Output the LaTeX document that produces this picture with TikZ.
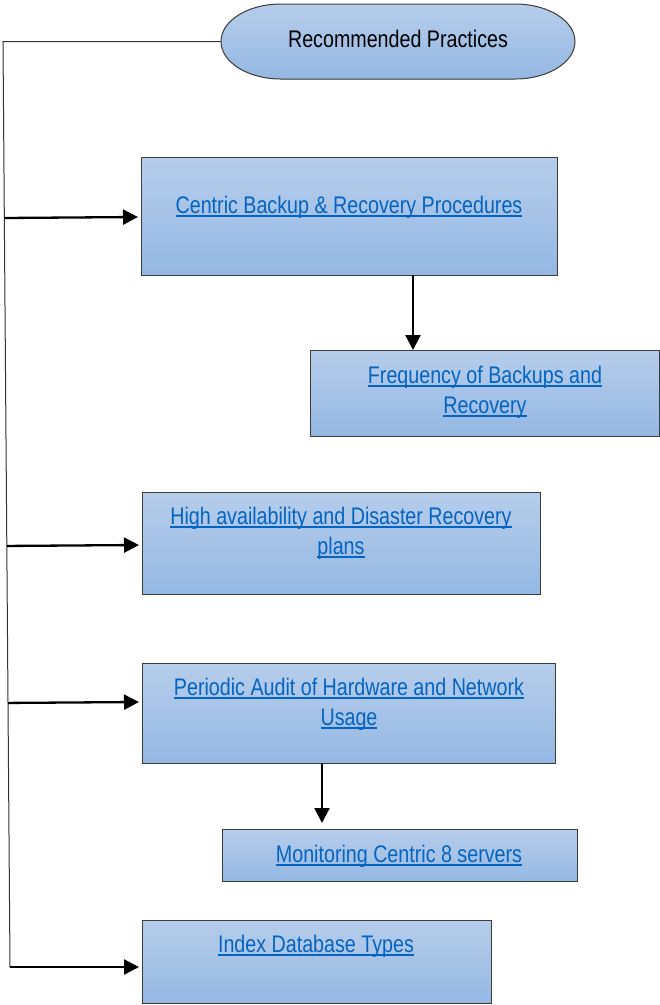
\documentclass[tikz,border=0pt]{standalone}
\usepackage{fontspec}
\setmainfont{Liberation Sans}[FakeStretch=0.82]
\usetikzlibrary{arrows.meta,calc}
\definecolor{boxtop}{RGB}{182,205,235}
\definecolor{boxbot}{RGB}{148,184,227}
\definecolor{linkblue}{RGB}{5,99,193}
\definecolor{edgecol}{RGB}{60,60,60}
\newcommand\lnk[1]{\leavevmode\setbox0\hbox{#1}\rlap{\rule[-3.9pt]{\wd0}{1.8pt}}\box0}
\tikzset{
  x=1pt,y=-1pt,
  boxnode/.style={draw=edgecol, line width=1pt, top color=boxtop, bottom color=boxbot,
    rectangle, inner sep=0pt, anchor=north west},
  lbl/.style={font=\fontsize{24}{30}\selectfont, text=linkblue, anchor=base, inner sep=0pt},
  ttl/.style={font=\fontsize{24}{30}\selectfont, text=black, anchor=base, inner sep=0pt},
  arr/.style={line width=2.3pt, -{Triangle[length=15pt,width=15pt]}},
  trunk/.style={line width=1pt, draw=black!80},
}
\begin{document}
\begin{tikzpicture}
\useasboundingbox (0,0) rectangle (660,1005);
% top terminator
\fill[top color=boxtop, bottom color=boxbot, draw=edgecol, line width=1pt]
  (281,4) -- (515,4) arc[start angle=90, end angle=-90, x radius=60pt, y radius=37.5pt]
  -- (281,79) arc[start angle=270, end angle=90, x radius=60pt, y radius=37.5pt] -- cycle;
\node[inner sep=0pt, minimum width=354, minimum height=75] (ell) at (398,41.5) {};
\node[ttl] (tt) at (398,47.5) {Recommended Practices};
% boxes
\node[boxnode, minimum width=416, minimum height=118] (b1) at (141,157) {};
\node[boxnode, minimum width=349, minimum height=86] (b2) at (310,350) {};
\node[boxnode, minimum width=398, minimum height=102] (b3) at (142,492) {};
\node[boxnode, minimum width=413, minimum height=100] (b4) at (142,663) {};
\node[boxnode, minimum width=355, minimum height=52] (b5) at (222,829) {};
\node[boxnode, minimum width=349, minimum height=83] (b6) at (142,920) {};
% texts
\node[lbl] (t1) at (349,213) {\lnk{Centric Backup \& Recovery Procedures}};
\node[lbl] (t2a) at (485,383) {\lnk{Frequency of Backups and}};
\node[lbl] (t2b) at (485,413) {\lnk{Recovery}};
\node[lbl] (t3a) at (341,524) {\lnk{High availability and Disaster Recovery}};
\node[lbl] (t3b) at (341,554) {\lnk{plans}};
\node[lbl] (t4a) at (349,695) {\lnk{Periodic Audit of Hardware and Network}};
\node[lbl] (t4b) at (349,725) {\lnk{Usage}};
\node[lbl] (t5) at (399,862) {\lnk{Monitoring Centric 8 servers}};
\node[lbl] (t6) at (316,952) {\lnk{Index Database Types}};
% trunk
\coordinate (tk1) at (3,41.5);
\coordinate (tk2) at (10,967);
\draw[trunk] (ell.west) -- (tk1) -- (tk2);
% arrow targets
\coordinate (a1) at (138,217);
\coordinate (a3) at (139,545);
\coordinate (a4) at (139,702);
\coordinate (a6) at (139,967);
\draw[arr] ($(tk1)!(a1)!(tk2)$) -- (a1);
\draw[arr] ($(tk1)!(a3)!(tk2)$) -- (a3);
\draw[arr] ($(tk1)!(a4)!(tk2)$) -- (a4);
\draw[arr] (tk2) -- (a6);
% down arrows
\coordinate (d1s) at (413,275);
\coordinate (d1e) at (413,350);
\draw[arr] (d1s) -- (d1e);
\coordinate (d4s) at (322,763);
\coordinate (d4e) at (322,823);
\draw[arr] (d4s) -- (d4e);
\end{tikzpicture}
\end{document}
